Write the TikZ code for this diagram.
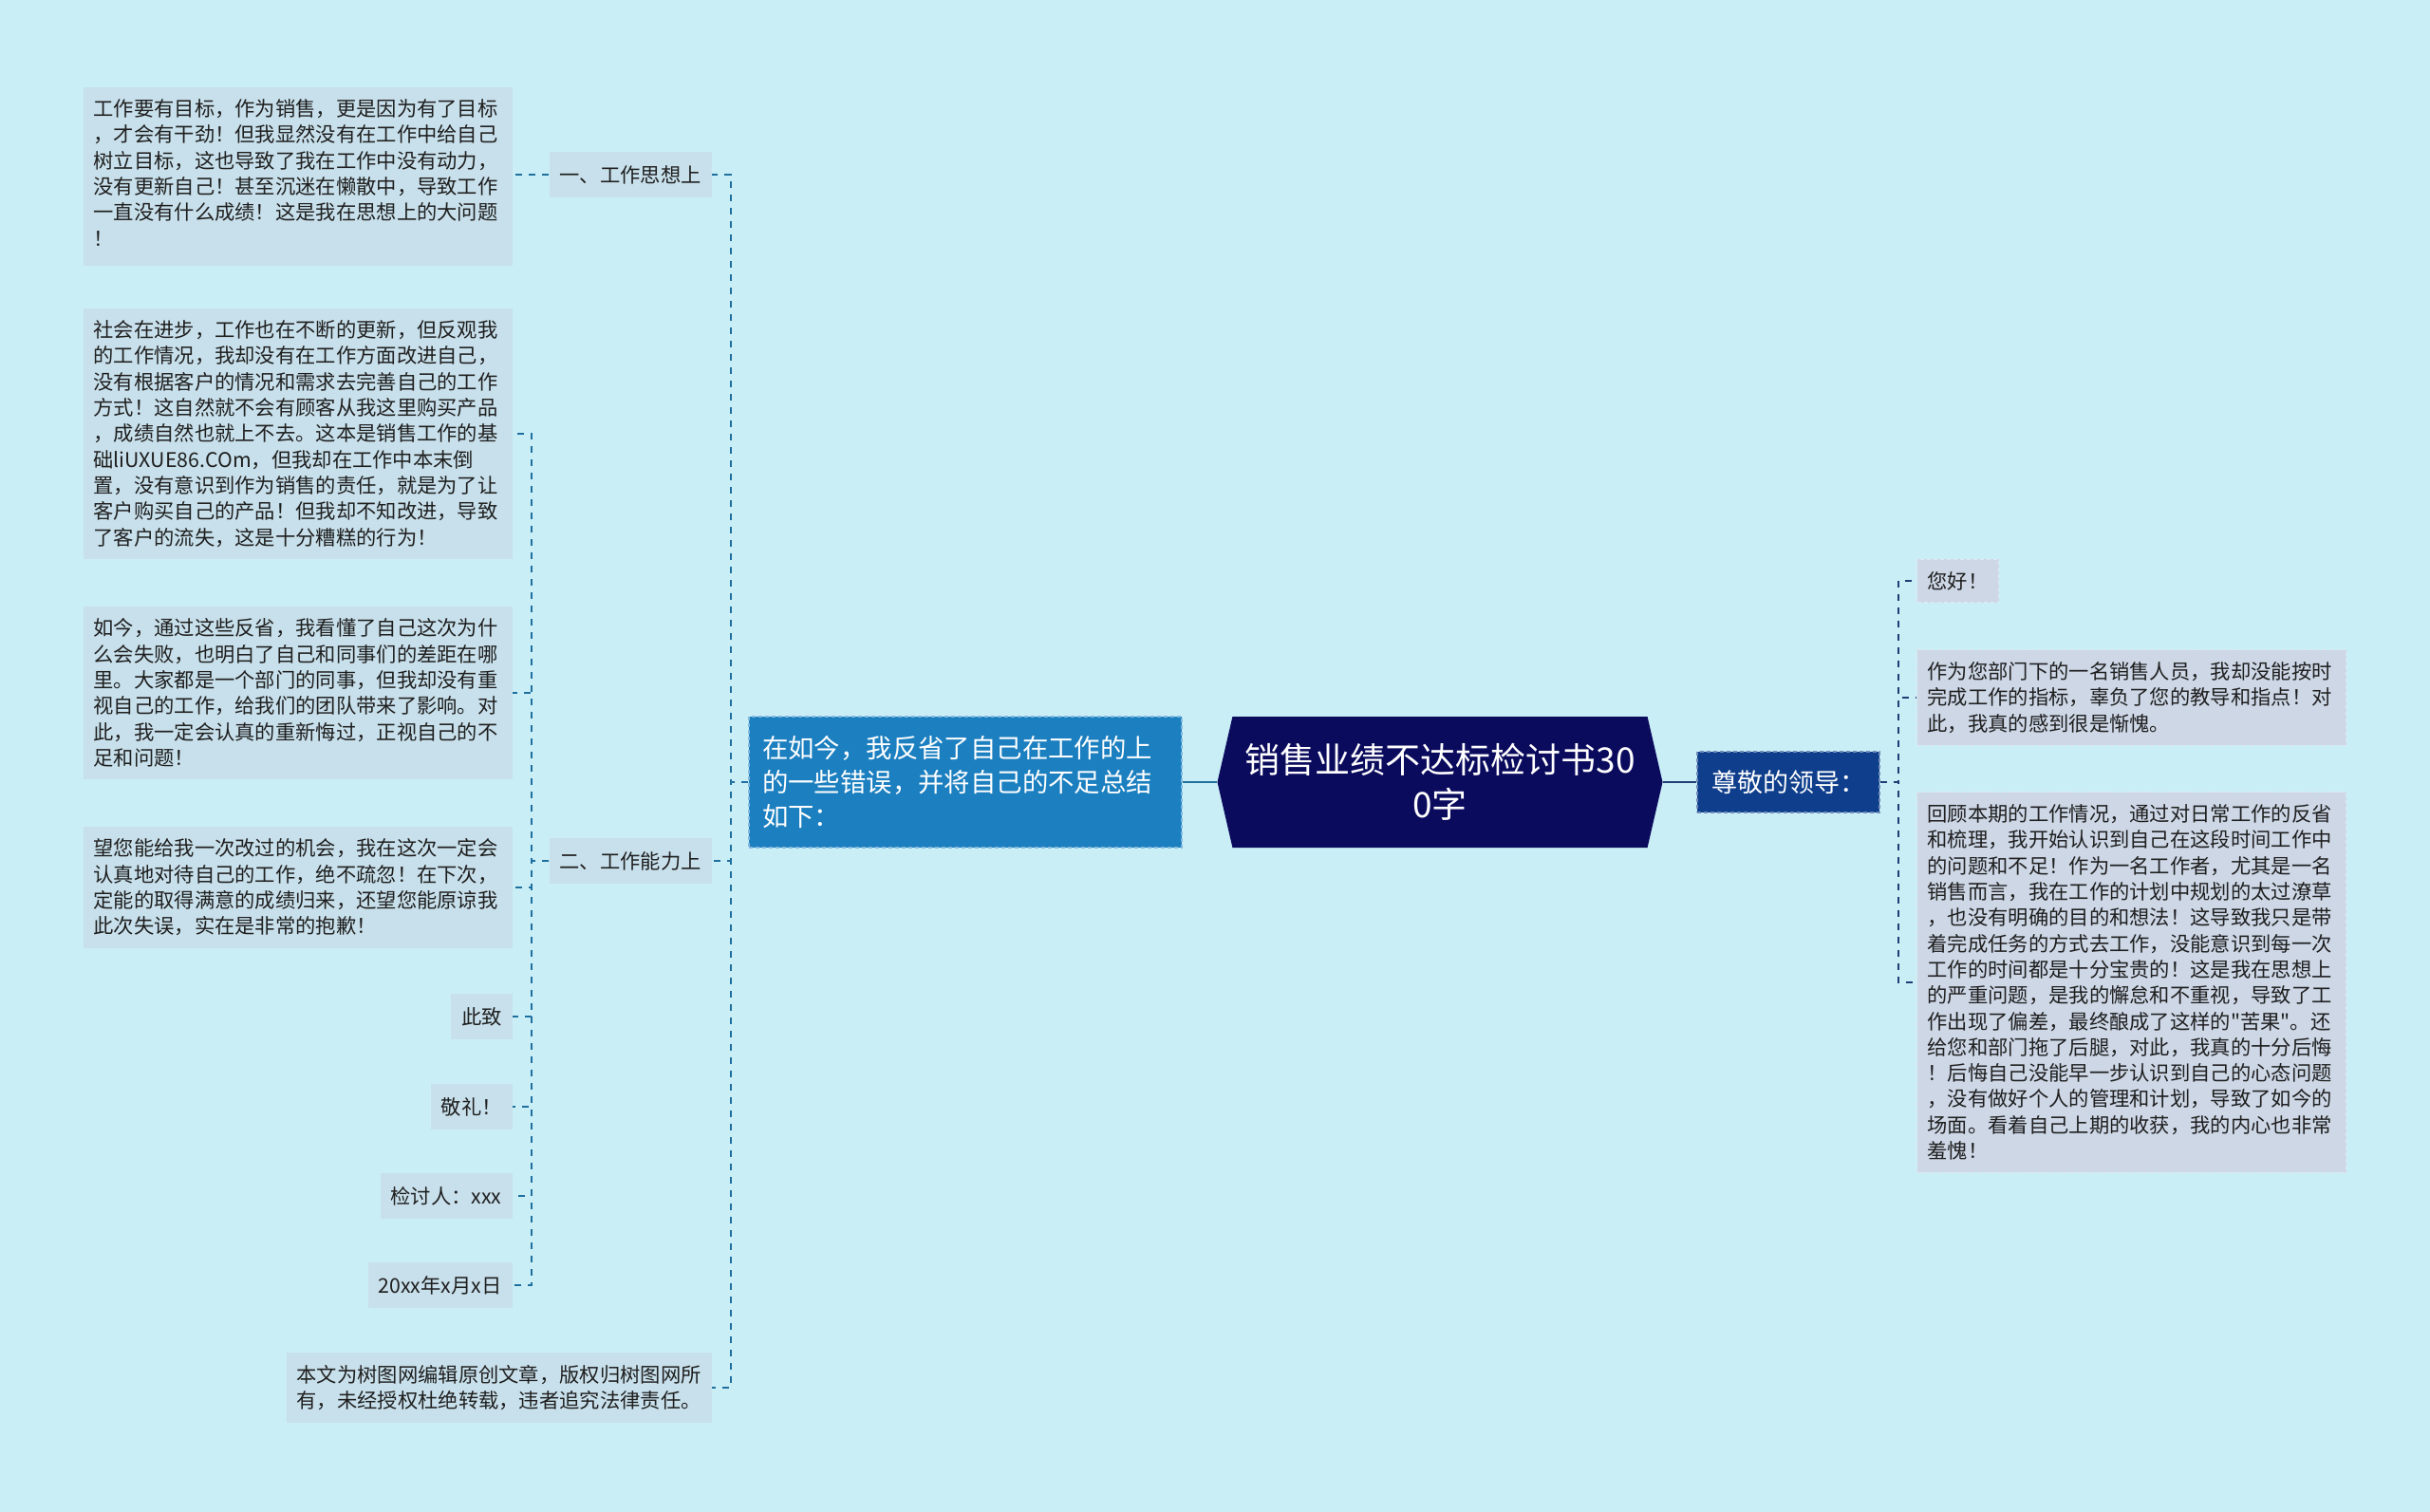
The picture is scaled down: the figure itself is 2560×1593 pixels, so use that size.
\documentclass[tikz,border=0pt]{standalone}
\usepackage{fontspec}
\setmainfont{Noto Sans CJK SC}[Ligatures=TeXOff]
\usepackage{xcolor}
\usetikzlibrary{shapes.symbols}

\definecolor{pagebg}{HTML}{C9EEF6}
\definecolor{leafL}{HTML}{C8E0EB}
\definecolor{leafR}{HTML}{CDD7E6}
\definecolor{titlebg}{HTML}{0B0B5E}
\definecolor{lmainbg}{HTML}{1B7FC0}
\definecolor{rmainbg}{HTML}{0F3F8C}
\definecolor{linkL}{HTML}{1F6F9F}
\definecolor{linkR}{HTML}{1E3F74}

\begin{document}
\begin{tikzpicture}[x=0.5pt,y=-0.5pt,
  leaftext/.style={font=\fontsize{10.65pt}{13.65pt}\selectfont, text=black!88},
  leaf/.style={leaftext, fill=leafL, inner xsep=5.5pt, inner ysep=6.5pt, align=left, text width=215pt},
  leafr/.style={leaf, fill=leafR, draw=leafR!60!white, dash pattern=on 2pt off 1.5pt, line width=0.6pt},
  tag/.style={leaftext, fill=leafL, inner xsep=5.5pt, minimum height=24pt},
  link/.style={line width=1.2pt, dash pattern=on 3.5pt off 3.5pt},
]
  % Page
  \useasboundingbox (0,0) rectangle (2560,1593);
  \fill[pagebg] (0,0) rectangle (2560,1593);

  % Central topic
  \node[signal, signal to=west and east, signal pointer angle=154, fill=titlebg, text=white,
        minimum width=234.5pt, minimum height=69pt, align=center,
        font=\fontsize{18.5pt}{23.7pt}\selectfont] (title) at (1517,824)
        {销售业绩不达标检讨书30\\0字};

  % Main branches
  \node[fill=lmainbg, draw=lmainbg!55!white, dash pattern=on 2pt off 1.5pt, line width=0.8pt,
        text=white, align=left, text width=214pt, inner xsep=7pt, minimum height=69pt,
        font=\fontsize{13.7pt}{18pt}\selectfont] (lmain) at (1017,824)
        {在如今，我反省了自己在工作的上\\的一些错误，并将自己的不足总结\\如下：};
  \node[fill=rmainbg, draw=rmainbg!60!white, dash pattern=on 2pt off 1.5pt, line width=0.8pt,
        text=white, inner xsep=7.5pt, minimum height=32pt,
        font=\fontsize{13.5pt}{17pt}\selectfont] (rmain) at (1884,824) {尊敬的领导：};

  % Right leaves
  \node[leafr, text width=32pt, anchor=west] (hello) at (2019,612) {您好！};
  \node[leafr, anchor=west] (r2) at (2019,735)
    {作为您部门下的一名销售人员，我却没能按时\\完成工作的指标，辜负了您的教导和指点！对\\此，我真的感到很是惭愧。};
  \node[leafr, anchor=west] (r3) at (2019,1035)
    {回顾本期的工作情况，通过对日常工作的反省\\和梳理，我开始认识到自己在这段时间工作中\\的问题和不足！作为一名工作者，尤其是一名\\销售而言，我在工作的计划中规划的太过潦草\\，也没有明确的目的和想法！这导致我只是带\\着完成任务的方式去工作，没能意识到每一次\\工作的时间都是十分宝贵的！这是我在思想上\\的严重问题，是我的懈怠和不重视，导致了工\\作出现了偏差，最终酿成了这样的"苦果"。还\\给您和部门拖了后腿，对此，我真的十分后悔\\！后悔自己没能早一步认识到自己的心态问题\\，没有做好个人的管理和计划，导致了如今的\\场面。看着自己上期的收获，我的内心也非常\\羞愧！};

  % Left sub topics
  \node[tag, anchor=east] (think) at (750,184) {一、工作思想上};
  \node[tag, anchor=east] (ability) at (750,907) {二、工作能力上};
  \node[leaf, text width=213pt, anchor=east] (copy) at (750,1462)
    {本文为树图网编辑原创文章，版权归树图网所\\有，未经授权杜绝转载，违者追究法律责任。};

  % Left leaves
  \node[leaf, anchor=east] (t1) at (540,186)
    {工作要有目标，作为销售，更是因为有了目标\\，才会有干劲！但我显然没有在工作中给自己\\树立目标，这也导致了我在工作中没有动力，\\没有更新自己！甚至沉迷在懒散中，导致工作\\一直没有什么成绩！这是我在思想上的大问题\\！\strut};
  \node[leaf, anchor=east] (a1) at (540,457)
    {社会在进步，工作也在不断的更新，但反观我\\的工作情况，我却没有在工作方面改进自己，\\没有根据客户的情况和需求去完善自己的工作\\方式！这自然就不会有顾客从我这里购买产品\\，成绩自然也就上不去。这本是销售工作的基\\础liUXUE86.COm，但我却在工作中本末倒\\置，没有意识到作为销售的责任，就是为了让\\客户购买自己的产品！但我却不知改进，导致\\了客户的流失，这是十分糟糕的行为！};
  \node[leaf, anchor=east] (a2) at (540,730)
    {如今，通过这些反省，我看懂了自己这次为什\\么会失败，也明白了自己和同事们的差距在哪\\里。大家都是一个部门的同事，但我却没有重\\视自己的工作，给我们的团队带来了影响。对\\此，我一定会认真的重新悔过，正视自己的不\\足和问题！};
  \node[leaf, anchor=east] (a3) at (540,935)
    {望您能给我一次改过的机会，我在这次一定会\\认真地对待自己的工作，绝不疏忽！在下次，\\定能的取得满意的成绩归来，还望您能原谅我\\此次失误，实在是非常的抱歉！};
  \node[tag, anchor=east] (a4) at (540,1071) {此致};
  \node[tag, anchor=east] (a5) at (540,1166) {敬礼！};
  \node[tag, anchor=east] (a6) at (540,1260) {检讨人：xxx};
  \node[tag, anchor=east] (a7) at (540,1354) {20xx年x月x日};

  % Trunk lines
  \draw[line width=1.2pt, linkL] (lmain.east) -- (title.west);
  \draw[line width=1.2pt, linkR] (title.east) -- (rmain.west);

  % Right branch
  \coordinate (busR) at (2000,0);
  \foreach \n in {hello,r2,r3}
    \draw[link, linkR] (rmain.east) -- (rmain.east -| busR) |- (\n.west);

  % Left branch
  \coordinate (busL) at (770,0);
  \foreach \n in {think,ability,copy}
    \draw[link, linkL] (lmain.west) -- (lmain.west -| busL) |- (\n.east);
  \draw[link, linkL] (think.west) -- (think.west -| t1.east);

  \coordinate (busA) at (560,0);
  \foreach \n in {a1,a2,a3,a4,a5,a6,a7}
    \draw[link, linkL] (ability.west) -- (ability.west -| busA) |- (\n.east);
\end{tikzpicture}
\end{document}
